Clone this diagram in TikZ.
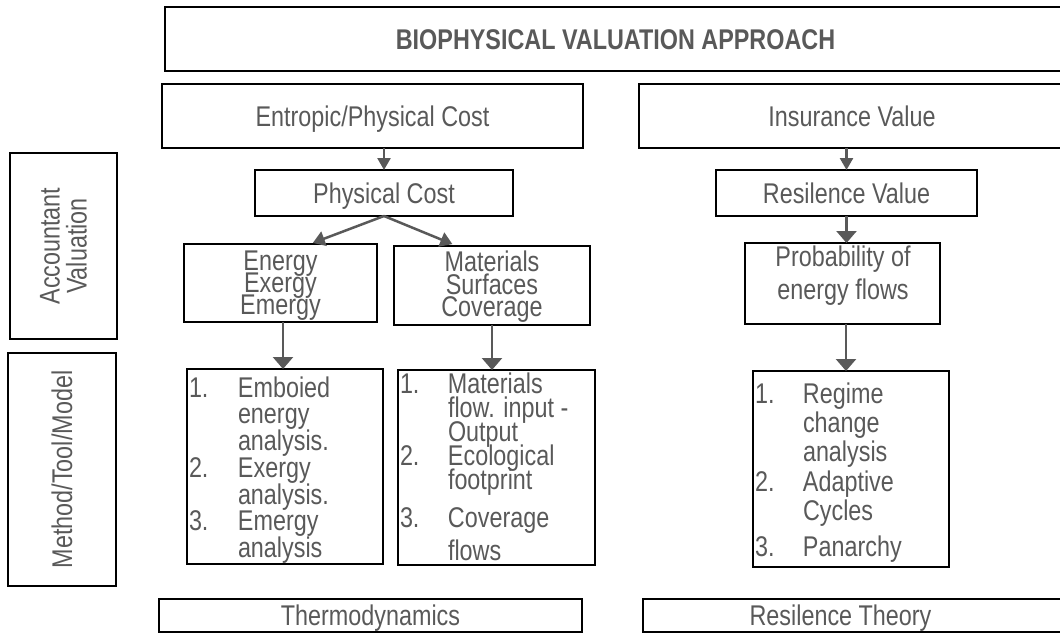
\documentclass[tikz,border=0pt]{standalone}
\usepackage{fontspec}
\setmainfont{Liberation Sans}[FakeStretch=0.82]
\usetikzlibrary{arrows.meta,calc}
\definecolor{txt}{HTML}{595959}
\newcommand\myfsb[1]{\fontsize{28.5}{#1}\selectfont\lineskiplimit=-100pt\lineskip=0pt}
\tikzset{
  box/.style={draw=black, line width=2pt, inner sep=0pt, outer sep=0pt, anchor=north west, text=txt, font=\myfsb{28.5}},
  one/.style={text height=20.4pt, text depth=0pt},
  lbl/.style={inner sep=0pt, outer sep=0pt, text=txt},
  conn/.style={draw=txt, line width=2.5pt, -{Triangle[width=13pt,length=12pt]}},
  bigconn/.style={conn, -{Triangle[width=20pt,length=12pt]}}
}
\begin{document}
\begin{tikzpicture}[x=1pt,y=-1pt]
\useasboundingbox (0,0) rectangle (1060,633);

% header boxes
\node[box, one, minimum width=901pt, minimum height=64pt, font=\myfsb{28.5}\bfseries] (title) at (165,7) {BIOPHYSICAL VALUATION APPROACH};
\node[box, one, minimum width=421pt, minimum height=64pt] (entropic) at (162,84) {Entropic/Physical Cost};
\node[box, one, minimum width=426pt, minimum height=64pt] (insur) at (639,84) {Insurance Value};

% second level
\node[box, one, minimum width=258pt, minimum height=46pt] (physc) at (255,170) {Physical Cost};
\node[box, one, minimum width=261pt, minimum height=46pt] (resv) at (716,170) {Resilence Value};

% third level boxes
\node[box, minimum width=193pt, minimum height=78pt] (energy) at (184,244) {};
\node[box, minimum width=196pt, minimum height=79pt] (mat) at (394,246) {};
\node[box, minimum width=195pt, minimum height=81pt] (prob) at (745,243) {};
\node[lbl, anchor=north, align=center, font=\myfsb{22}] (energy-t) at (280.5,250.5) {Energy\\Exergy\\Emergy};
\node[lbl, anchor=north, align=center, font=\myfsb{22.5}] (mat-t) at (492,251) {Materials\\Surfaces\\Coverage};
\node[lbl, anchor=north, align=center, font=\myfsb{33}] (prob-t) at (843,246) {Probability of\\energy flows};

% list boxes
\node[box, minimum width=196pt, minimum height=195pt] (ll) at (187,369) {};
\node[box, minimum width=197pt, minimum height=195pt] (ml) at (398,370) {};
\node[box, minimum width=196pt, minimum height=196pt] (rl) at (753,371) {};

\node[lbl, anchor=north west, align=left, font=\myfsb{26.7}] (ll-t) at (189,376.6)
 {\makebox[49pt][l]{1.}Emboied\\\hspace*{49pt}energy\\\hspace*{49pt}analysis.\\
  \makebox[49pt][l]{2.}Exergy\\\hspace*{49pt}analysis.\\
  \makebox[49pt][l]{3.}Emergy\\\hspace*{49pt}analysis};
\node[lbl, anchor=north west, align=left, font=\myfsb{24}] (ml-t) at (400,372.6)
 {\makebox[48pt][l]{1.}Materials\\\hspace*{48pt}flow. input -\\\hspace*{48pt}Output\\
  \makebox[48pt][l]{2.}Ecological\\\hspace*{48pt}footprint\\[14pt]
  \makebox[48pt][l]{3.}Coverage\\[9pt]\hspace*{48pt}flows};
\node[lbl, anchor=north west, align=left, font=\myfsb{29.3}] (rl-t) at (755,382.6)
 {\makebox[48pt][l]{1.}Regime\\\hspace*{48pt}change\\\hspace*{48pt}analysis\\
  \makebox[48pt][l]{2.}Adaptive\\\hspace*{48pt}Cycles\\[6.5pt]
  \makebox[48pt][l]{3.}Panarchy};

% bottom boxes
\node[box, one, minimum width=423pt, minimum height=33pt] (thermo) at (159,599) {Thermodynamics};
\node[box, one, minimum width=432pt, minimum height=33pt] (rtheory) at (643,599) {\hspace*{-37pt}Resilence Theory};

% side boxes
\node[box, anchor=center, rotate=90, minimum width=186pt, minimum height=107pt, align=center, font=\myfsb{27}] (acc) at (63.5,246) {Accountant\\Valuation};
\node[box, anchor=center, rotate=90, minimum width=233pt, minimum height=108pt] (method) at (62,469.5) {Method/Tool/Model};

% connectors
\draw[conn] (physc.north |- entropic.south) -- (physc.north);
\draw[conn] (resv.north |- insur.south) -- (resv.north);
\draw[conn, -{Triangle[width=15pt,length=12pt]}, shorten >=3pt] (physc.south) -- ([xshift=29.5pt]energy.north);
\draw[conn, -{Triangle[width=15pt,length=12pt]}, shorten >=5pt] (physc.south) -- ([xshift=-35pt]mat.north);
\draw[bigconn] (resv.south) -- (resv.south |- prob.north);
\draw[bigconn] ([xshift=2.5pt]energy.south) -- ([xshift=2.5pt]energy.south |- ll.north);
\draw[bigconn] (mat.south) -- (mat.south |- ml.north);
\draw[bigconn] ([xshift=3.5pt]prob.south) -- ([xshift=3.5pt]prob.south |- rl.north);
\end{tikzpicture}
\end{document}
